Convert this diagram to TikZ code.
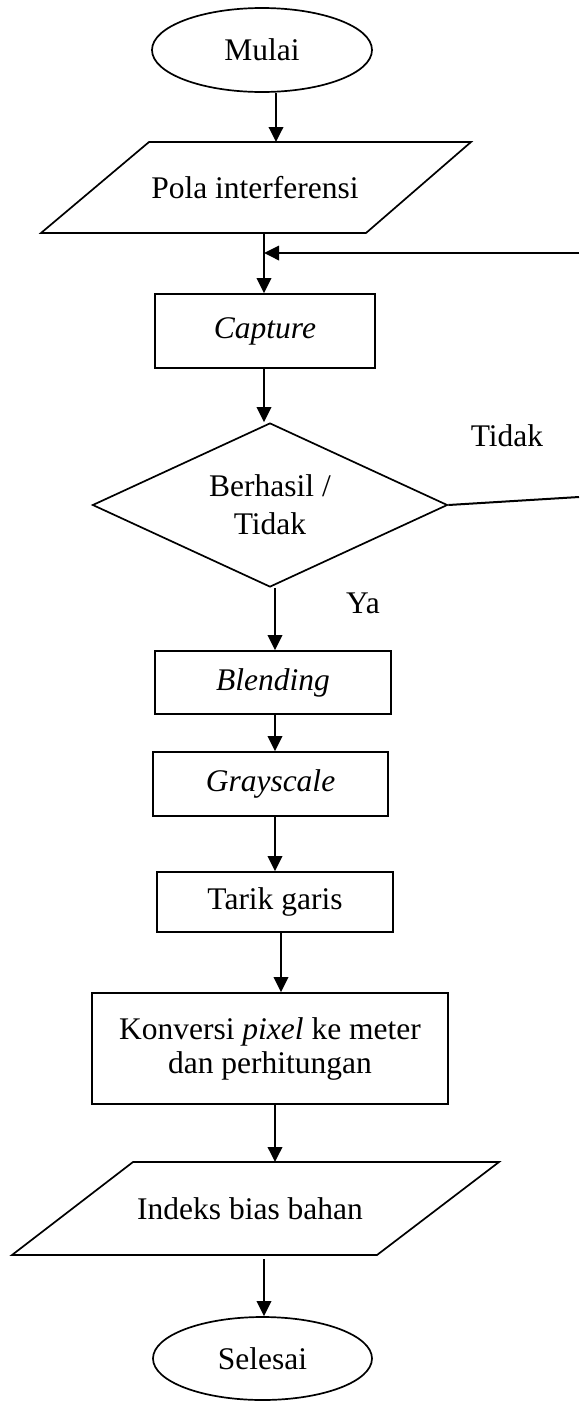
\documentclass[tikz,border=0pt]{standalone}
\usepackage{fontspec}
\setmainfont{Liberation Serif}
\usetikzlibrary{shapes.geometric,arrows.meta}
\begin{document}
\begin{tikzpicture}[x=0.5pt,y=-0.5pt,
  every node/.style={font=\fontsize{15.75}{19}\selectfont, text=black},
  box/.style={draw, line width=0.85pt, rectangle, inner sep=0pt, align=center},
  term/.style={draw, line width=0.85pt, ellipse, inner sep=0pt},
  decision/.style={draw, line width=0.85pt, diamond, shape aspect=2.16, inner sep=0pt, align=center},
  arr/.style={line width=1.1pt, -{Triangle[length=7.5pt,width=7.2pt]}},
  ln/.style={line width=1pt},
  shp/.style={line width=0.85pt, line join=miter}]
\useasboundingbox (0,0) rectangle (579,1404);

% terminals
\node[term, minimum width=110pt, minimum height=42pt] (mulai) at (262,50) {Mulai};
\node[term, minimum width=109.5pt, minimum height=41.5pt] (selesai) at (262.5,1358.5) {Selesai};

% input / output parallelograms
\draw[shp] (149,142) -- (471,142) -- (366,233) -- (41,233) -- cycle;
\node (pola) at (255,188) {Pola interferensi};
\coordinate (polaN) at (276,142);
\coordinate (polaS) at (264,233);

\draw[shp] (133,1162) -- (499,1162) -- (377,1255) -- (12,1255) -- cycle;
\node (indeks) at (250,1209) {Indeks bias bahan};
\coordinate (indN) at (275,1162);
\coordinate (indS) at (264,1259);

% process boxes
\node[box, minimum width=110pt, minimum height=37pt] (capture) at (265,331) {\textit{Capture}};
\node[decision, minimum width=177.5pt, minimum height=82pt] (dec) at (270,505) {Berhasil /\\Tidak};
\node[box, minimum width=118pt, minimum height=31.5pt] (blend) at (273,682.5) {\textit{Blending}};
\node[box, minimum width=117.5pt, minimum height=32pt] (gray) at (270.5,784) {\textit{Grayscale}};
\node[box, minimum width=118pt, minimum height=30pt] (tarik) at (275,902) {Tarik garis};
\node[box, minimum width=178pt, minimum height=55.5pt] (konv) at (270,1048.5) {Konversi \textit{pixel} ke meter\\[-2pt]dan perhitungan};

% labels
\node (tidak) at (507,436) {Tidak};
\node (ya) at (363,603) {Ya};

% connectors
\draw[arr] (mulai.south -| polaN) -- (polaN);
\draw[arr] (polaS) -- (polaS |- capture.north);
\coordinate (fb) at (579,253);
\draw[arr] (fb) -- (fb -| polaS);
\draw[arr] (capture.south -| polaS) -- (polaS |- dec.north);
\draw[arr] (dec.south -| indN) -- (indN |- blend.north);
\draw[arr] (blend.south -| indN) -- (indN |- gray.north);
\draw[arr] (gray.south -| indN) -- (indN |- tarik.north);
\draw[arr] ([xshift=3pt]tarik.south) -- ([xshift=3pt]tarik.south |- konv.north);
\draw[arr] (konv.south -| indN) -- (indN);
\draw[arr] (indS) -- (indS |- selesai.north);
\coordinate (tdk) at (579,497);
\draw[ln] (dec.east) -- (tdk);
\end{tikzpicture}
\end{document}
